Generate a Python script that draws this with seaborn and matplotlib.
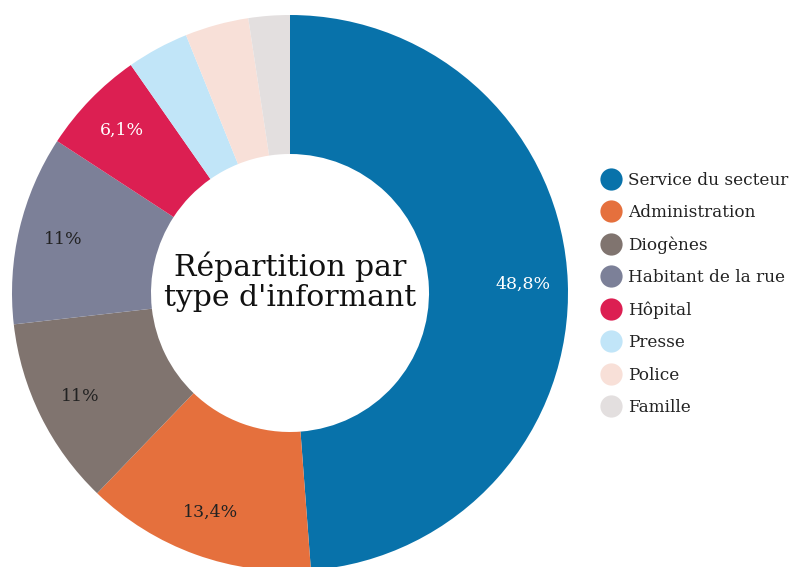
import matplotlib
matplotlib.use("Agg")
import numpy as np
import matplotlib.pyplot as plt
from matplotlib.lines import Line2D
import seaborn as sns

categories = ['Service du secteur', 'Administration', 'Diogènes', 'Habitant de la rue',
              'Hôpital', 'Presse', 'Police', 'Famille']
values = [48.8, 13.4, 11, 11, 6.1, 3.6, 3.7, 2.4]
value_labels = ['48,8%', '13,4%', '11%', '11%', '6,1%', '', '', '']
colors = ['#0872aa', '#e5703d', '#80746f', '#7c8098', '#dc1f52', '#c1e5f8', '#f8e0d8', '#e3dfdf']
label_colors = ['white', '#222222', '#222222', '#222222', 'white', 'white', 'white', 'white']

sns.set_theme(style="white")
plt.rcParams['font.family'] = ['DejaVu Serif']

fig = plt.figure(figsize=(7.96, 5.67), dpi=100)
ax = fig.add_axes([12 / 796, -4 / 567, 556 / 796, 556 / 567])

wedges, texts = ax.pie(values, colors=colors, startangle=90, counterclock=False,
                       radius=1, wedgeprops=dict(width=0.5, linewidth=0))
ax.set_xlim(-1, 1)
ax.set_ylim(-1, 1)
ax.set_aspect('equal')
ax.axis('off')

# percentage labels, placed towards the outer edge of the ring
cum = 0
for v, lab, c in zip(values, value_labels, label_colors):
    mid = 90 - (cum + v / 2) * 3.6
    cum += v
    if lab:
        r = 0.84
        ax.text(r * np.cos(np.radians(mid)), r * np.sin(np.radians(mid)), lab,
                ha='center', va='center', color=c, fontsize=12.5)

ax.text(0, 0.04, "Répartition par\ntype d'informant", ha='center', va='center',
        fontsize=21.5, color='#111111', linespacing=1.1)

handles = [Line2D([0], [0], marker='o', linestyle='', markersize=16,
                  markerfacecolor=c, markeredgewidth=0) for c in colors]
fig.legend(handles, categories, loc='center left', bbox_to_anchor=(586 / 796, 1 - 294 / 567),
           frameon=False, fontsize=12.2, labelspacing=0.9, handletextpad=0.4,
           handlelength=1.2, labelcolor='#222222')

fig.savefig('out.png', dpi=100)
